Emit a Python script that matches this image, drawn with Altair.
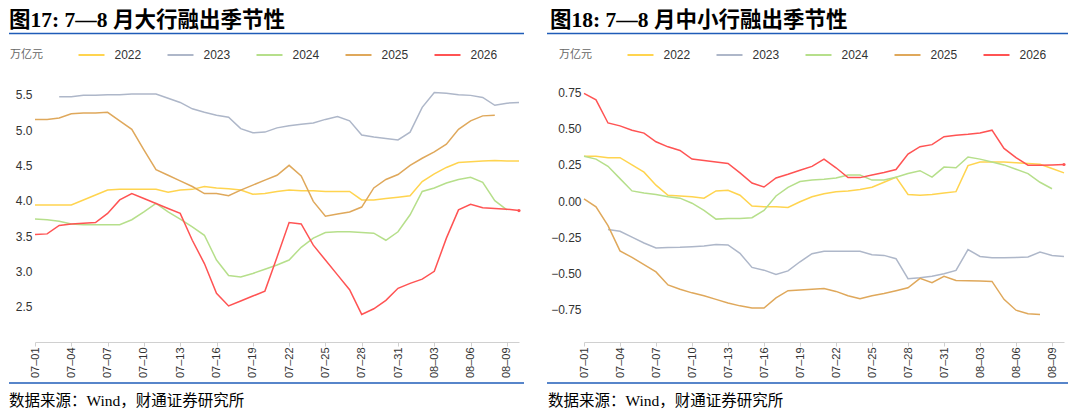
"""7-8月 大行 / 中小行 融出季节性 (two panels)."""
import altair as alt
import pandas as pd

DATES = [
    "07–01", "07–02", "07–03", "07–04", "07–05", "07–06", "07–07", "07–08",
    "07–09", "07–10", "07–11", "07–12", "07–13", "07–14", "07–15", "07–16",
    "07–17", "07–18", "07–19", "07–20", "07–21", "07–22", "07–23", "07–24",
    "07–25", "07–26", "07–27", "07–28", "07–29", "07–30", "07–31", "08–01",
    "08–02", "08–03", "08–04", "08–05", "08–06", "08–07", "08–08", "08–09",
    "08–10",
]
TICK_DATES = [
    "07–01", "07–04", "07–07", "07–10", "07–13", "07–16", "07–19",
    "07–22", "07–25", "07–28", "07–31", "08–03", "08–06", "08–09",
]
YEARS = ["2022", "2023", "2024", "2025", "2026"]
COLORS = ["#FFD44F", "#AEB7C9", "#B6DF8B", "#DFA85B", "#FF5353"]

# 大行 (万亿元)
BIG_2022 = [3.94, 3.94, 3.94, 3.94, 4.01, 4.08, 4.15, 4.16, 4.16, 4.16, 4.16,
            4.12, 4.15, 4.16, 4.20, 4.18, 4.17, 4.15, 4.09, 4.10, 4.13,
            4.15, 4.14, 4.14, 4.13, 4.13, 4.13, 4.01, 4.01, 4.03, 4.05,
            4.07, 4.27, 4.38, 4.47, 4.54, 4.55, 4.56, 4.57, 4.56, 4.56]
BIG_2023 = [None, None, 5.47, 5.47, 5.49, 5.49, 5.50, 5.50, 5.51, 5.51, 5.51,
            5.45, 5.39, 5.30, 5.25, 5.21, 5.18, 5.02, 4.96, 4.97, 5.03,
            5.06, 5.08, 5.10, 5.15, 5.19, 5.13, 4.93, 4.90, 4.88, 4.86,
            4.97, 5.32, 5.53, 5.52, 5.50, 5.49, 5.46, 5.35, 5.38, 5.39]
BIG_2024 = [3.74, 3.73, 3.71, 3.67, 3.66, 3.66, 3.66, 3.66, 3.73, 3.84, 3.96,
            3.84, 3.74, 3.63, 3.51, 3.16, 2.94, 2.92, 2.97, 3.03, 3.09,
            3.16, 3.34, 3.47, 3.55, 3.56, 3.56, 3.55, 3.54, 3.44, 3.56,
            3.80, 4.13, 4.18, 4.25, 4.30, 4.33, 4.26, 4.00, 3.87, None]
BIG_2025 = [5.15, 5.15, 5.17, 5.23, 5.24, 5.24, 5.25, 5.13, 5.01, 4.72, 4.44,
            4.36, 4.28, 4.20, 4.10, 4.10, 4.07, 4.15, 4.22, 4.29, 4.36,
            4.50, 4.35, 3.99, 3.78, 3.81, 3.84, 3.91, 4.18, 4.30, 4.37,
            4.50, 4.60, 4.69, 4.80, 5.01, 5.13, 5.20, 5.21, None, None]
BIG_2026 = [3.52, 3.53, 3.65, 3.67, 3.68, 3.69, 3.82, 4.01, 4.10, 4.03, 3.96,
            3.89, 3.82, 3.44, 3.11, 2.69, 2.51, 2.58, 2.65, 2.72, 3.20,
            3.69, 3.67, 3.37, 3.16, 2.95, 2.74, 2.39, 2.47, 2.59, 2.76,
            2.83, 2.89, 3.00, 3.47, 3.87, 3.95, 3.90, 3.89, 3.88, 3.86]

# 中小行 (万亿元)
SMALL_2022 = [0.31, 0.31, 0.30, 0.30, 0.25, 0.20, 0.11, 0.04, 0.035, 0.03, 0.02,
              0.07, 0.075, 0.04, -0.035, -0.04, -0.04, -0.045, -0.005, 0.03, 0.05,
              0.065, 0.07, 0.08, 0.095, 0.13, 0.165, 0.045, 0.04, 0.045, 0.055,
              0.065, 0.245, 0.27, 0.27, 0.27, 0.265, 0.26, 0.255, 0.225, 0.195]
SMALL_2023 = [None, None, -0.197, -0.209, -0.25, -0.29, -0.325, -0.322, -0.32, -0.316, -0.311,
              -0.30, -0.304, -0.362, -0.459, -0.478, -0.508, -0.483, -0.42, -0.364, -0.348,
              -0.348, -0.348, -0.348, -0.371, -0.376, -0.399, -0.537, -0.53, -0.52, -0.503,
              -0.48, -0.336, -0.383, -0.392, -0.392, -0.39, -0.387, -0.353, -0.376, -0.383]
SMALL_2024 = [0.31, 0.29, 0.24, 0.155, 0.07, 0.055, 0.045, 0.03, 0.02, -0.015, -0.065,
              -0.125, -0.12, -0.12, -0.115, -0.065, 0.035, 0.095, 0.135, 0.145, 0.15,
              0.16, 0.18, 0.18, 0.145, 0.145, 0.165, 0.19, 0.21, 0.165, 0.235,
              0.23, 0.305, 0.29, 0.27, 0.25, 0.22, 0.19, 0.13, 0.085, None]
SMALL_2025 = [0.015, -0.04, -0.17, -0.345, -0.39, -0.44, -0.49, -0.58, -0.61, -0.635, -0.655,
              -0.68, -0.705, -0.725, -0.74, -0.74, -0.67, -0.62, -0.615, -0.61, -0.605,
              -0.625, -0.655, -0.675, -0.655, -0.64, -0.62, -0.60, -0.535, -0.565, -0.52,
              -0.55, -0.552, -0.553, -0.556, -0.68, -0.755, -0.78, -0.785, None, None]
SMALL_2026 = [0.745, 0.70, 0.54, 0.52, 0.49, 0.47, 0.41, 0.375, 0.35, 0.29, 0.28,
              0.27, 0.26, 0.195, 0.125, 0.097, 0.16, 0.185, 0.213, 0.24, 0.29,
              0.23, 0.162, 0.162, 0.18, 0.197, 0.218, 0.325, 0.376, 0.39, 0.445,
              0.455, 0.462, 0.471, 0.49, 0.364, 0.30, 0.248, 0.248, 0.25, 0.253]

TITLE_BIG = "图17: 7—8 月大行融出季节性"
TITLE_SMALL = "图18: 7—8 月中小行融出季节性"
SOURCE = "数据来源：Wind，财通证券研究所"
UNIT = "万亿元"

BLUE = "#1F5CB8"
SANS = "Liberation Sans"
CJK = "Noto Sans CJK SC"
SERIF = "'Liberation Serif', 'Noto Sans CJK SC'"
PLOT_H = 265


def to_long(series: dict) -> pd.DataFrame:
    rows = []
    for year, values in series.items():
        for date, value in zip(DATES, values):
            if value is not None:
                rows.append({"date": date, "year": year, "value": value})
    return pd.DataFrame(rows)


def panel(df, title, y_domain, y_values, y_format, width, left, right, title_dx, source_dx):
    x = alt.X(
        "date:O",
        sort=DATES,
        scale=alt.Scale(type="point", padding=0),
        axis=alt.Axis(
            values=TICK_DATES, labelAngle=270, labelFont=SANS, labelFontSize=11,
            labelColor="#333333", labelPadding=1, tickSize=4, tickColor="#D0D0D0",
            domainColor="#D0D0D0", grid=False,
        ),
        title=None,
    )
    y = alt.Y(
        "value:Q",
        scale=alt.Scale(domain=y_domain, nice=False, zero=False),
        axis=alt.Axis(
            values=y_values, format=y_format, labelFont=SANS, labelFontSize=12,
            labelColor="#333333", labelPadding=3, ticks=False, domain=False, grid=False,
            title=UNIT, titleAngle=0, titleX=-9, titleY=-22.5, titleAlign="center",
            titleBaseline="middle", titleFont=CJK, titleFontSize=11,
            titleFontWeight="normal", titleColor="#666666",
        ),
    )
    color = alt.Color(
        "year:N",
        scale=alt.Scale(domain=YEARS, range=COLORS),
        legend=alt.Legend(
            title=None, orient="none", legendX=42.5, legendY=-36, direction="horizontal",
            symbolType="stroke", symbolSize=676, symbolStrokeWidth=2, labelFont=SANS,
            labelFontSize=12, labelColor="#333333", labelOffset=9, columnPadding=22,
            padding=0,
        ),
    )
    lines = alt.Chart(df).mark_line(strokeWidth=1.5).encode(x=x, y=y, color=color)

    last = df[(df["year"] == YEARS[-1]) & (df["date"] == DATES[-1])]
    dot = alt.Chart(last).mark_circle(size=10, color=COLORS[-1], opacity=1).encode(x=x, y=y)

    one = pd.DataFrame({"t": [0]})
    top_rule = alt.Chart(one).mark_rule(color=BLUE, strokeWidth=1.6).encode(
        x=alt.value(left), x2=alt.value(right), y=alt.value(-43.5)
    )
    bottom_rule = alt.Chart(one).mark_rule(color=BLUE, strokeWidth=1.6).encode(
        x=alt.value(left), x2=alt.value(right), y=alt.value(306)
    )
    head = alt.Chart(pd.DataFrame({"t": [title]})).mark_text(
        align="left", baseline="middle", font=SERIF, fontSize=21.5, fontWeight="bold",
        color="#000000",
    ).encode(text="t:N", x=alt.value(title_dx), y=alt.value(-56))
    foot = alt.Chart(pd.DataFrame({"t": [SOURCE]})).mark_text(
        align="left", baseline="middle", font=SERIF, fontSize=15.5, color="#000000",
    ).encode(text="t:N", x=alt.value(source_dx), y=alt.value(324))

    return alt.layer(lines, dot, top_rule, bottom_rule, head, foot).properties(
        width=width, height=PLOT_H
    )


big = to_long(dict(zip(YEARS, [BIG_2022, BIG_2023, BIG_2024, BIG_2025, BIG_2026])))
small = to_long(dict(zip(YEARS, [SMALL_2022, SMALL_2023, SMALL_2024, SMALL_2025, SMALL_2026])))

left_chart = panel(
    big, TITLE_BIG, [2.0, 5.75], [2.5, 3.0, 3.5, 4.0, 4.5, 5.0, 5.5], ".1f",
    width=484, left=-26, right=489, title_dx=-26, source_dx=-26,
)
right_chart = panel(
    small, TITLE_SMALL, [-0.975, 0.858], [-0.75, -0.5, -0.25, 0.0, 0.25, 0.5, 0.75], ".2f",
    width=480, left=-37, right=484, title_dx=-34, source_dx=-36,
)

chart = (
    alt.hconcat(left_chart, right_chart, spacing=65, bounds="flush")
    .resolve_scale(color="independent")
    .configure_view(stroke=None)
    .properties(padding={"left": 0, "top": 2, "right": 0, "bottom": 0})
)

chart.save("out.html", embed_options={"renderer": "svg", "actions": False})
